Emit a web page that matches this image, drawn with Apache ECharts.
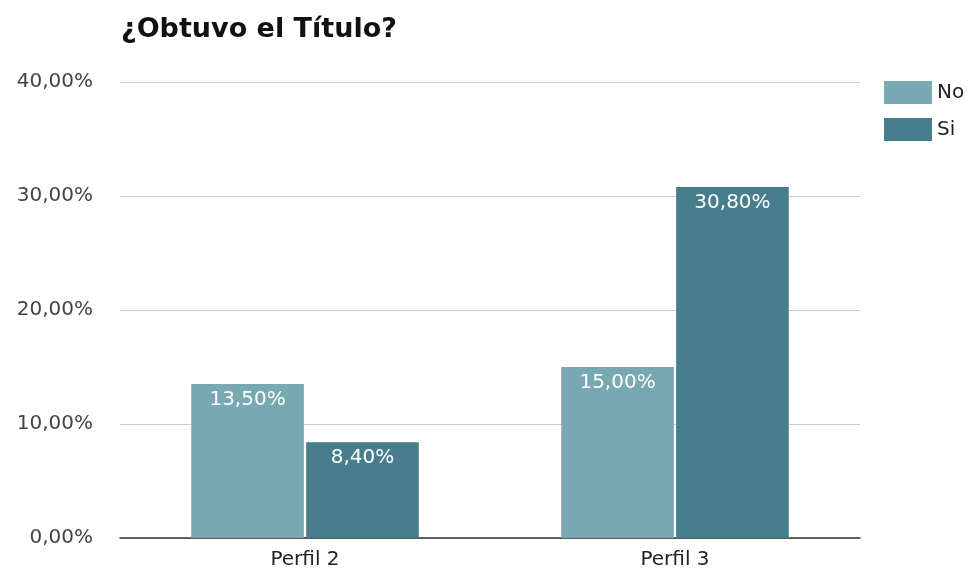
<!DOCTYPE html>
<html><head><meta charset="utf-8">
<script src="https://cdn.jsdelivr.net/npm/echarts@6/dist/echarts.min.js"></script>
<style>html,body{margin:0;padding:0;background:#fff}#c{width:975px;height:574px}</style>
</head><body><div id="c"></div>
<script>
const categories = ["Perfil 2", "Perfil 3"];
const seriesNames = ["No", "Si"];
const noValues = [13.5, 15.0];
const siValues = [8.4, 30.8];
const yTicks = [0, 10, 20, 30, 40];

const fmt = v => v.toFixed(2).replace('.', ',') + '%';
const chart = echarts.init(document.getElementById('c'));
const font = '"DejaVu Sans", Verdana, sans-serif';
const lbl = {
  show: true, position: 'insideTop', distance: 6, color: '#fff',
  fontSize: 20, fontFamily: font,
  formatter: p => fmt(p.value)
};
chart.setOption({
  animation: false,
  title: { text: '¿Obtuvo el Título?', left: 116, top: 11,
    textStyle: { fontFamily: font, fontSize: 27, fontWeight: 'bold', color: '#111' } },
  legend: { left: 879, top: 76, orient: 'vertical', itemWidth: 48, itemHeight: 23, itemGap: 14,
    icon: 'rect', data: seriesNames,
    textStyle: { fontFamily: font, fontSize: 20, color: '#222', lineHeight: 23 } },
  grid: { left: 120, right: 115, top: 82, bottom: 36 },
  xAxis: { type: 'category', data: categories,
    axisLine: { lineStyle: { color: '#333', width: 1.5 } },
    axisTick: { show: false },
    axisLabel: { fontFamily: font, fontSize: 20, color: '#222', margin: 12 } },
  yAxis: { type: 'value', min: 0, max: 40, interval: 10,
    axisLine: { show: false }, axisTick: { show: false },
    splitLine: { lineStyle: { color: '#cccccc' } },
    axisLabel: { fontFamily: font, fontSize: 20, color: '#444', margin: 27,
      formatter: v => yTicks.includes(v) ? fmt(v) : '' } },
  series: [
    { name: 'No', type: 'bar', data: noValues, barGap: '2%', barCategoryGap: '38.5%',
      itemStyle: { color: '#78a8b1' }, label: lbl },
    { name: 'Si', type: 'bar', data: siValues,
      itemStyle: { color: '#467f8b' }, label: lbl }
  ]
});
</script></body></html>
